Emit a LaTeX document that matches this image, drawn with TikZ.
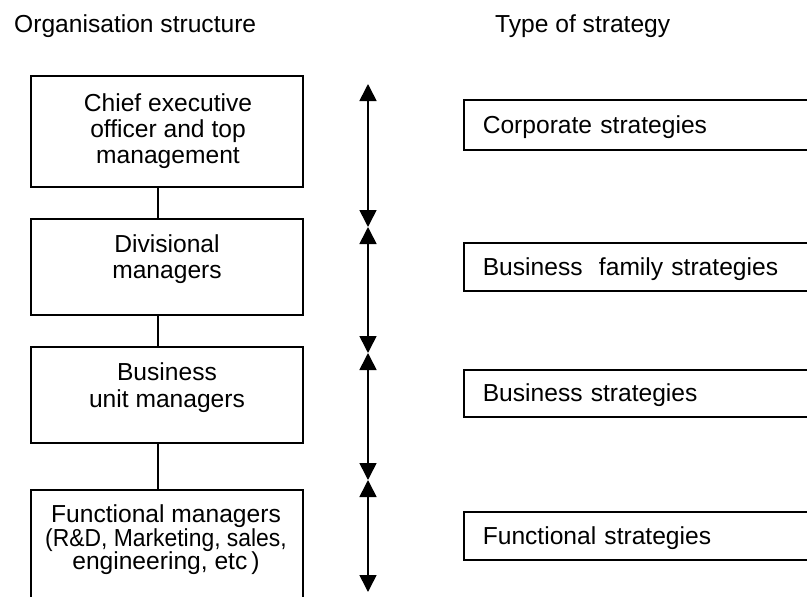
\documentclass[tikz,border=0pt]{standalone}
\usepackage{fontspec}
\usepackage{graphicx}
\setmainfont{Liberation Sans}
\usetikzlibrary{arrows.meta}
\begin{document}
\begin{tikzpicture}[x=1pt,y=-1pt,
  every node/.style={font=\fontsize{24.6pt}{26pt}\selectfont},
  lbox/.style={draw, line width=1.6pt, minimum width=272pt, inner sep=0pt},
  ltext/.style={align=center, inner sep=0pt},
  rbox/.style={draw, line width=1.6pt, anchor=west, minimum width=400pt,
    inner xsep=19pt, inner ysep=0pt, text width=362pt, align=left,
    text height=16pt, text depth=0pt},
  title/.style={anchor=base west, inner sep=0pt},
  link/.style={line width=1.6pt},
  span/.style={line width=1.6pt,
    {Triangle[width=17pt,length=17pt]}-{Triangle[width=17pt,length=17pt]}}]
\clip (0,0) rectangle (807,597);

% column headings
\node[title] (orghead) at (14,32) {Organisation structure};
\node[title] (typehead) at (495,32) {Type of strategy};

% organisation levels
\node[lbox, minimum height=111pt] (ceo) at (167,131.5) {};
\node[lbox, minimum height=96pt] (div) at (167,267) {};
\node[lbox, minimum height=96pt] (bu) at (167,395) {};
\node[lbox, minimum height=150pt] (fn) at (167,565) {};

\node[ltext] (ceotext) at (168,131.5) {Chief executive\\officer and top\\management};
\node[ltext] (divtext) at (167,259.5) {Divisional\\managers};
\node[ltext, font=\fontsize{24.6pt}{27pt}\selectfont] (butext) at (167,388) {Business\\unit managers};
\node[ltext, font=\fontsize{24.6pt}{23.5pt}\selectfont] (fntext) at (166,540)
  {Functional managers\\\scalebox{0.93}[1]{(R\&D, Marketing, sales,}\\engineering, etc\,)};

% reporting line
\coordinate (spine) at (158,0);
\draw[link] (ceo.south -| spine) -- (div.north -| spine);
\draw[link] (div.south -| spine) -- (bu.north -| spine);
\draw[link] (bu.south -| spine) -- (fn.north -| spine);

% level markers
\coordinate (a0) at (368,84);
\coordinate (a1) at (368,227);
\coordinate (a2) at (368,353);
\coordinate (a3) at (368,480);
\coordinate (a4) at (368,592);
\draw[span] (a0) -- (a1);
\draw[span] (a1) -- (a2);
\draw[span] (a2) -- (a3);
\draw[span] (a3) -- (a4);

% strategy types
\node[rbox, minimum height=50pt] (corp) at (463,125) {Corporate strategies};
\node[rbox, minimum height=48pt] (fam) at (463,267) {Business\ \ family strategies};
\node[rbox, minimum height=47pt] (bus) at (463,393.5) {Business strategies};
\node[rbox, minimum height=48pt] (func) at (463,536) {Functional strategies};
\end{tikzpicture}
\end{document}
